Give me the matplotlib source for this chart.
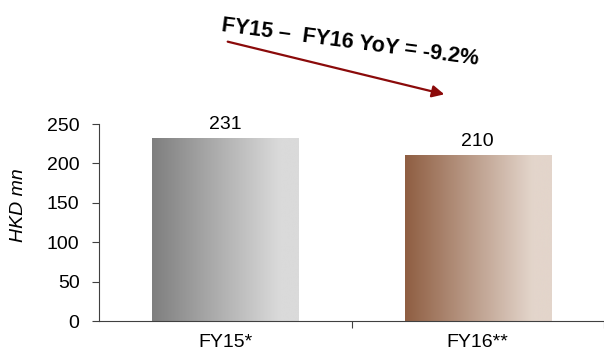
import matplotlib.pyplot as plt
import numpy as np
from matplotlib.colors import LinearSegmentedColormap
from matplotlib.patches import FancyArrowPatch

categories = ["FY15*", "FY16**"]
values = [231, 210]
value_labels = ["231", "210"]
annotation = "FY15 –  FY16 YoY = -9.2%"

plt.rcParams["font.family"] = ["Liberation Sans", "DejaVu Sans"]

fig = plt.figure(figsize=(6.04, 3.52), dpi=100)
ax = fig.add_axes([0.164, 0.088, 0.836, 0.5597])

# gradient colours for each bar (left dark -> right light)
grads = [("#7f7f7f", "#dadada"), ("#8f5e42", "#e3d5cb")]

x = np.arange(len(categories))
width = 0.58
bars = ax.bar(x, values, width, color="none", edgecolor="none", zorder=2)

grad = np.linspace(0, 1, 256)
grad = np.clip(grad * 1.15, 0, 1).reshape(1, -1)
for bar, (c0, c1) in zip(bars, grads):
    cmap = LinearSegmentedColormap.from_list("g", [c0, c1])
    bx, by = bar.get_x(), bar.get_y()
    bw, bh = bar.get_width(), bar.get_height()
    ax.imshow(grad, cmap=cmap, aspect="auto", extent=[bx, bx + bw, by, by + bh],
              zorder=2, interpolation="bicubic")

for xi, v, lab in zip(x, values, value_labels):
    ax.text(xi, v + 7, lab, ha="center", va="bottom", fontsize=14)

ax.set_xlim(-0.5, 1.5)
ax.set_ylim(0, 250)
ax.set_yticks([0, 50, 100, 150, 200, 250])
ax.set_xticks([0.5, 1.5])
ax.set_xticklabels([])
ax.set_xticks(x, minor=True)
ax.set_xticklabels(categories, minor=True)
ax.tick_params(axis="x", which="minor", length=0, pad=9, labelsize=14)
ax.tick_params(axis="x", which="major", length=5, color="#404040")
ax.tick_params(axis="y", length=5, labelsize=14, pad=9, color="#404040")
ax.set_ylabel("HKD mn", fontsize=14, style="italic")
ax.yaxis.set_label_coords(-0.142, 0.59)

for s in ["top", "right"]:
    ax.spines[s].set_visible(False)
for s in ["left", "bottom"]:
    ax.spines[s].set_color("#404040")

# YoY arrow and text
fig.patches.append(FancyArrowPatch(
    (225 / 604, 1 - 41 / 352), (447 / 604, 1 - 95 / 352),
    transform=fig.transFigure, arrowstyle="-|>", mutation_scale=18,
    color="#8b0a0a", lw=1.6))
fig.text(350 / 604, 1 - 42 / 352, annotation, ha="center", va="center",
         fontsize=15.5, fontweight="bold", rotation=-7.5)

fig.savefig("out.png", dpi=100)
